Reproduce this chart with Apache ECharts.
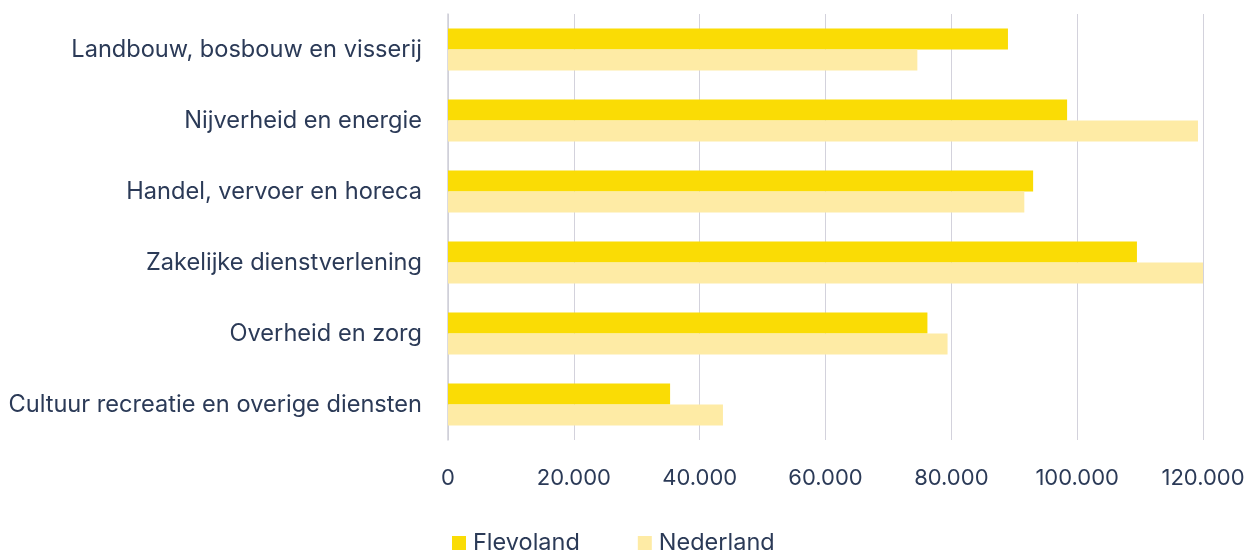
<!DOCTYPE html>
<html>
<head>
<meta charset="utf-8">
<script src="https://cdn.jsdelivr.net/npm/echarts@6/dist/echarts.min.js"></script>
<style>
  html, body { margin: 0; padding: 0; background: #fff; }
  #main { width: 1251px; height: 552px; }
</style>
</head>
<body>
<div id="main"></div>
<script>
var categories = [
    'Landbouw, bosbouw en visserij',
    'Nijverheid en energie',
    'Handel, vervoer en horeca',
    'Zakelijke dienstverlening',
    'Overheid en zorg',
    'Cultuur recreatie en overige diensten'
];
var flevoland = [89000, 98400, 93000, 109500, 76200, 35300];
var nederland = [74600, 119200, 91600, 120100, 79400, 43700];
var xTicks = { min: 0, max: 120000, step: 20000 };

var textColor = '#2b3a57';
var fontName = 'Inter';

var myChart = echarts.init(document.getElementById('main'));

function formatNumber(v) {
    return String(v).replace(/\B(?=(\d{3})+(?!\d))/g, '.');
}

var option = {
    animation: false,
    textStyle: { fontFamily: fontName },
    grid: {
        left: 448,
        right: 48,
        top: 14,
        bottom: 112
    },
    legend: {
        data: ['Flevoland', 'Nederland'],
        top: 531,
        left: 452,
        padding: 0,
        itemWidth: 14,
        itemHeight: 14,
        itemGap: 58,
        icon: 'rect',
        textStyle: { color: textColor, fontSize: 23.5, fontFamily: fontName, padding: [0, 0, 0, 2] }
    },
    xAxis: {
        type: 'value',
        min: xTicks.min,
        max: xTicks.max,
        interval: xTicks.step,
        axisLine: { show: false },
        axisTick: { show: false },
        axisLabel: {
            color: textColor,
            fontSize: 22,
            margin: 27,
            formatter: formatNumber
        },
        splitLine: { lineStyle: { color: '#d3d2dc', width: 1 } }
    },
    yAxis: {
        type: 'category',
        inverse: true,
        data: categories,
        axisLine: { show: true, lineStyle: { color: '#cfcfd9', width: 1.5 } },
        axisTick: { show: false },
        axisLabel: { color: textColor, fontSize: 23.6, margin: 26 }
    },
    series: [
        {
            name: 'Flevoland',
            type: 'bar',
            data: flevoland,
            barWidth: 21,
            barGap: '0%',
            itemStyle: { color: '#fadc05' }
        },
        {
            name: 'Nederland',
            type: 'bar',
            data: nederland,
            barWidth: 21,
            barGap: '0%',
            itemStyle: { color: '#feeba5' }
        }
    ]
};

myChart.setOption(option);
</script>
</body>
</html>
